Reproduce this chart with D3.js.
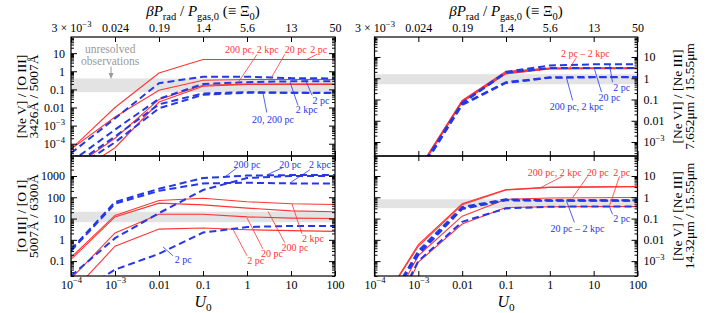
<!DOCTYPE html>
<html>
<head>
<meta charset="utf-8">
<script src="https://cdn.jsdelivr.net/npm/d3@7"></script>
<style>
  body { margin: 0; background: #fff; }
  svg { display: block; }
</style>
</head>
<body>
<div id="chart"></div>
<script>
// model grid: one point per decade of U0
const U0 = [1e-4, 1e-3, 1e-2, 1e-1, 1, 10, 100];
const sizes = ["2 pc", "20 pc", "200 pc", "2 kpc"];
const uLabels = ["10^−4", "10^−3", "0.01", "0.1", "1", "10", "100"];
const xiLabels = ["3 × 10^−3", "0.024", "0.19", "1.4", "5.6", "13", "50"];

// [Ne V]/[O III] 3426/5007 (rows follow sizes)
const nevOiiiRed = [
  [5e-5, 0.01, 0.8, 4.5, 4.5, 4.5, 4.5],
  [5e-5, 3e-3, 0.09, 0.32, 0.35, 0.35, 0.35],
  [4e-6, 2e-4, 0.028, 0.17, 0.2, 0.2, 0.2],
  [1.5e-6, 6e-5, 0.02, 0.15, 0.19, 0.19, 0.19]
];
const nevOiiiBlue = [
  [3e-5, 2.5e-3, 0.22, 0.5, 0.5, 0.42, 0.4],
  [5e-6, 2.5e-4, 0.015, 0.06, 0.07, 0.065, 0.065],
  [3e-6, 1.2e-4, 0.009, 0.05, 0.065, 0.065, 0.062],
  [1e-5, 6e-4, 0.03, 0.2, 0.25, 0.28, 0.28]
];
const nevOiiiObs = [0.07, 0.4];

// [O III]/[O I] 5007/6300
const oiiiOiRed = [
  [3e-3, 0.5, 3.2, 3.6, 3, 2.7, 2.5],
  [0.015, 2.1, 16, 16, 12, 10.5, 10],
  [0.12, 12, 53, 44, 31, 23, 21],
  [0.15, 14, 70, 90, 62, 50, 46]
];
const oiiiOiBlue = [
  [2e-3, 0.04, 0.22, 2.2, 4, 4.5, 4.5],
  [0.35, 60, 250, 800, 1050, 1100, 1100],
  [0.02, 1.2, 18, 220, 800, 1000, 1000],
  [0.3, 50, 200, 450, 480, 450, 450]
];
const oiiiOiObs = [6.7, 21];

// [Ne VI]/[Ne III] 7.652/15.55 um
const nevINeiiiRed = [
  [1e-9, 5e-5, 0.09, 2.1, 3, 3, 3],
  [1e-9, 5e-5, 0.085, 1.9, 2.9, 3, 3],
  [1e-9, 4.5e-5, 0.08, 1.7, 2.8, 2.9, 2.9],
  [1e-9, 4e-5, 0.075, 1.6, 2.7, 2.8, 2.8]
];
const nevINeiiiBlue = [
  [1e-9, 4e-5, 0.07, 2, 4, 4.5, 4.5],
  [1e-9, 4e-5, 0.065, 1.8, 3, 3, 3],
  [1e-9, 3e-5, 0.06, 0.65, 1.1, 1.15, 1.15],
  [1e-9, 3e-5, 0.055, 0.6, 1.05, 1.1, 1.1]
];
const nevINeiiiObs = [0.52, 1.55];

// [Ne V]/[Ne III] 14.32/15.55 um
const nevNeiiiRed = [
  [2.5e-8, 9e-4, 0.055, 0.33, 0.36, 0.37, 0.37],
  [3e-7, 1.8e-3, 0.13, 0.8, 0.92, 0.95, 0.97],
  [3e-6, 6e-3, 0.5, 2.3, 3, 3.1, 3.2],
  [3e-6, 5e-3, 0.45, 2.2, 2.9, 3.0, 3.1]
];
const nevNeiiiBlue = [
  [1e-7, 1e-3, 0.07, 0.3, 0.36, 0.37, 0.37],
  [1e-6, 3e-3, 0.35, 0.8, 0.72, 0.72, 0.72],
  [1e-6, 2.5e-3, 0.3, 0.75, 0.7, 0.7, 0.7],
  [1e-6, 2e-3, 0.28, 0.72, 0.68, 0.68, 0.68]
];
const nevNeiiiObs = [0.31, 0.8];

// labels with leader lines, in [log10 U0, log10 ratio]
const nevOiiiNotes = [
  {t: "200 pc, 2 kpc", c: "r", at: [0.11, 1.22], from: [0.23, 0.94], to: [-0.23, -0.72]},
  {t: "20 pc", c: "r", at: [1.11, 1.22], from: [0.86, 0.94], to: [0.52, -0.5]},
  {t: "2 pc", c: "r", at: [1.63, 1.22], from: [1.59, 0.94], to: [1.36, 0.65]},
  {t: "2 pc", c: "b", at: [1.68, -1.61], from: [1.48, -1.33], to: [1.32, -0.44]},
  {t: "2 kpc", c: "b", at: [1.36, -2.11], from: [1.16, -1.89], to: [0.98, -0.61]},
  {t: "20, 200 pc", c: "b", at: [0.59, -2.67], from: [0.45, -2.28], to: [0.36, -1.17]}
];
const oiiiOiNotes = [
  {t: "200 pc", c: "b", at: [0.0, 3.52], from: [-0.23, 3.38], to: [-0.5, 2.96]},
  {t: "20 pc", c: "b", at: [0.98, 3.52], from: [0.8, 3.38], to: [0.45, 3.05]},
  {t: "2 kpc", c: "b", at: [1.66, 3.52], from: [1.43, 3.29], to: [0.98, 2.68]},
  {t: "2 kpc", c: "r", at: [1.5, 0.07], from: [1.25, 0.28], to: [1.02, 1.7]},
  {t: "200 pc", c: "r", at: [1.09, -0.35], from: [0.86, -0.14], to: [0.48, 1.33]},
  {t: "20 pc", c: "r", at: [0.57, -0.63], from: [0.36, -0.42], to: [0.0, 1.03]},
  {t: "2 pc", c: "r", at: [0.2, -0.96], from: [0.0, -0.75], to: [-0.32, 0.5]},
  {t: "2 pc", c: "b", at: [-1.45, -0.94], from: [-1.68, -0.75], to: [-1.91, -0.33]}
];
const nevINeiiiNotes = [
  {t: "2 pc – 2 kpc", c: "r", at: [0.81, 1.18], from: [0.61, 0.99], to: [0.45, 0.47]},
  {t: "2 pc", c: "b", at: [1.64, -0.42], from: [1.43, -0.19], to: [1.36, 0.66]},
  {t: "20 pc", c: "b", at: [1.36, -0.9], from: [1.18, -0.66], to: [1.02, 0.42]},
  {t: "200 pc, 2 kpc", c: "b", at: [0.61, -1.32], from: [0.52, -1.04], to: [0.38, 0.02]}
];
const nevNeiiiNotes = [
  {t: "200 pc, 2 kpc", c: "r", at: [0.11, 1.18], from: [0.29, 0.99], to: [-0.24, 0.42]},
  {t: "20 pc", c: "r", at: [1.09, 1.18], from: [0.86, 0.99], to: [0.52, -0.02]},
  {t: "2 pc", c: "r", at: [1.64, 1.18], from: [1.59, 0.99], to: [1.36, -0.42]},
  {t: "2 pc", c: "b", at: [1.64, -1.0], from: [1.43, -0.8], to: [1.36, -0.44]},
  {t: "20 pc – 2 kpc", c: "b", at: [0.63, -1.46], from: [0.56, -1.18], to: [0.38, -0.17]}
];

const RED = "#ff3535", BLUE = "#2438e6", SERIF = "'Liberation Serif', 'DejaVu Serif', serif";
const W = 709, H = 313;

const svg = d3.select("#chart").append("svg")
    .attr("width", W).attr("height", H)
    .attr("font-family", SERIF);

// text with italic / sub / sup pieces; dy only where the baseline moves
function richText(sel, parts, fs) {
  let off = 0;
  parts.forEach(([s, k]) => {
    const t = sel.append("tspan").text(s);
    let target = 0;
    if (k === "sub" || k === "isub") { target = 0.28 * fs; t.attr("font-size", 0.7 * fs); }
    if (k === "sup") { target = -0.42 * fs; t.attr("font-size", 0.72 * fs); }
    if (k === "i" || k === "isub") t.attr("font-style", "italic");
    if (target !== off) t.attr("dy", target - off);
    off = target;
  });
}
function supLabel(sel, str, fs) {
  sel.text(null);
  const bits = str.split("^");
  richText(sel, bits.length > 1 ? [[bits[0], ""], [bits[1], "sup"]] : [[str, ""]], fs);
}
function logLabel(v) {
  const e = Math.round(Math.log10(v));
  return e <= -3 ? "10^−" + (-e) : d3.format("~g")(v);
}
function decades(dom) {
  return d3.range(Math.ceil(Math.log10(dom[0]) - 1e-9), Math.floor(Math.log10(dom[1]) + 1e-9) + 1).map(e => 10 ** e);
}
function minors(dom) {
  const out = [];
  for (let e = Math.floor(Math.log10(dom[0])); e <= Math.ceil(Math.log10(dom[1])); e++)
    for (let m = 2; m <= 9; m++) {
      const v = m * 10 ** e;
      if (v >= dom[0] && v <= dom[1]) out.push(v);
    }
  return out;
}

const panels = [
  {x: [71, 335], y: [37, 156], dom: [2.1e-5, 78], red: nevOiiiRed, blue: nevOiiiBlue, obs: nevOiiiObs,
   notes: nevOiiiNotes, side: "left", top: true, lab: ["[Ne V] / [O III]", "3426Å / 5007Å"]},
  {x: [71, 335], y: [156, 276], dom: [0.02, 8700], red: oiiiOiRed, blue: oiiiOiBlue, obs: oiiiOiObs,
   notes: oiiiOiNotes, side: "left", top: false, lab: ["[O III] / [O I]", "5007Å / 6300Å"]},
  {x: [374.5, 637.5], y: [37, 156], dom: [2.2e-4, 87], red: nevINeiiiRed, blue: nevINeiiiBlue, obs: nevINeiiiObs,
   notes: nevINeiiiNotes, side: "right", top: true, lab: ["[Ne VI] / [Ne III]", "7.652μm / 15.55μm"]},
  {x: [374.5, 637.5], y: [156, 276], dom: [2e-4, 87], red: nevNeiiiRed, blue: nevNeiiiBlue, obs: nevNeiiiObs,
   notes: nevNeiiiNotes, side: "right", top: false, lab: ["[Ne V] / [Ne III]", "14.32μm / 15.55μm"]}
];

panels.forEach((p, pi) => {
  const x = d3.scaleLog().domain([1e-4, 100]).range(p.x);
  const y = d3.scaleLog().domain(p.dom).range([p.y[1], p.y[0]]);
  const g = svg.append("g");

  g.append("clipPath").attr("id", "clip" + pi)
    .append("rect").attr("x", p.x[0]).attr("y", p.y[0])
    .attr("width", p.x[1] - p.x[0]).attr("height", p.y[1] - p.y[0]);

  // observed range
  g.append("rect")
    .attr("x", p.x[0]).attr("width", p.x[1] - p.x[0])
    .attr("y", y(p.obs[1])).attr("height", y(p.obs[0]) - y(p.obs[1]))
    .attr("fill", "#e3e3e3");

  const line = d3.line().x(d => x(d[0])).y(d => y(d[1]));
  const lines = g.append("g").attr("clip-path", `url(#clip${pi})`).attr("fill", "none");
  p.red.forEach(s => lines.append("path").attr("d", line(d3.zip(U0, s)))
    .attr("stroke", RED).attr("stroke-width", 1.1));
  p.blue.forEach(s => lines.append("path").attr("d", line(d3.zip(U0, s)))
    .attr("stroke", BLUE).attr("stroke-width", 2).attr("stroke-dasharray", "7,4"));

  // frame
  g.append("rect").attr("x", p.x[0]).attr("y", p.y[0])
    .attr("width", p.x[1] - p.x[0]).attr("height", p.y[1] - p.y[0])
    .attr("fill", "none").attr("stroke", "#000").attr("stroke-width", 1.2);

  // y axes on both edges
  [["left", p.x[0]], ["right", p.x[1]]].forEach(([s, pos]) => {
    const mk = s === "left" ? d3.axisLeft : d3.axisRight;
    const labelled = s === p.side;
    const ax = g.append("g").attr("transform", `translate(${pos},0)`)
      .call(mk(y).tickValues(decades(p.dom)).tickSize(-6).tickPadding(labelled ? 6 : 0)
        .tickFormat(d => labelled ? logLabel(d) : ""));
    g.append("g").attr("transform", `translate(${pos},0)`)
      .call(mk(y).tickValues(minors(p.dom)).tickSize(-3).tickFormat(""))
      .call(a => a.select(".domain").remove());
    ax.select(".domain").remove();
    ax.attr("font-family", SERIF).attr("font-size", 12);
    ax.selectAll("text").each(function (d) { if (labelled) supLabel(d3.select(this), logLabel(d), 12); });
  });

  // x axes top and bottom
  const top = g.append("g").attr("transform", `translate(0,${p.y[0]})`)
    .call(d3.axisTop(x).tickValues(U0).tickSize(-5).tickPadding(5).tickFormat((d, i) => p.top ? xiLabels[i] : ""));
  const bot = g.append("g").attr("transform", `translate(0,${p.y[1]})`)
    .call(d3.axisBottom(x).tickValues(U0).tickSize(-5).tickPadding(4).tickFormat((d, i) => p.top ? "" : uLabels[i]));
  [top, bot].forEach(a => {
    a.select(".domain").remove();
    a.attr("font-family", SERIF).attr("font-size", 12);
  });
  if (p.top) top.selectAll("text").each(function (d, i) { supLabel(d3.select(this), xiLabels[i], 12); });
  else bot.selectAll("text").each(function (d, i) { supLabel(d3.select(this), uLabels[i], 12); });

  // ratio label
  const lx = p.side === "left" ? [21.5, 33] : [677.5, 689];
  const yc = (p.y[0] + p.y[1]) / 2;
  p.lab.forEach((t, k) => {
    g.append("text").attr("transform", `translate(${lx[k]},${yc}) rotate(-90)`)
      .attr("text-anchor", "middle").attr("dominant-baseline", "central")
      .attr("font-size", 13.5).text(t);
  });

  // annotations
  const px = d => [x(10 ** d[0]), y(10 ** d[1])];
  p.notes.forEach(n => {
    const col = n.c === "r" ? RED : BLUE;
    const a = px(n.from), b = px(n.to), c = px(n.at);
    g.append("line").attr("x1", a[0]).attr("y1", a[1]).attr("x2", b[0]).attr("y2", b[1])
      .attr("stroke", col).attr("stroke-width", 0.8);
    g.append("text").attr("x", c[0]).attr("y", c[1])
      .attr("text-anchor", "middle").attr("dominant-baseline", "central")
      .attr("font-size", 10).attr("fill", col).text(n.t);
  });

  if (pi === 0) {
    const gray = "#9a9a9a";
    ["unresolved", "observations"].forEach((t, k) => {
      const c = px([-3.11, 1.24 - 0.68 * k]);
      g.append("text").attr("x", c[0]).attr("y", c[1])
        .attr("text-anchor", "middle").attr("dominant-baseline", "central")
        .attr("font-size", 11.5).attr("fill", gray).text(t);
    });
    const a = px([-3.09, 0.26]), b = px([-3.09, -0.42]);
    g.append("line").attr("x1", a[0]).attr("y1", a[1]).attr("x2", b[0]).attr("y2", b[1] - 4)
      .attr("stroke", gray).attr("stroke-width", 1);
    g.append("path")
      .attr("d", `M${b[0] - 2.5},${b[1] - 6}L${b[0] + 2.5},${b[1] - 6}L${b[0]},${b[1]}Z`)
      .attr("fill", gray);
  }

  if (p.top) {
    richText(svg.append("text").attr("x", (p.x[0] + p.x[1]) / 2).attr("y", 16)
      .attr("text-anchor", "middle").attr("font-size", 15),
      [["β", "i"], ["P", "i"], ["rad", "sub"], [" / ", ""], ["P", "i"], ["gas,0", "sub"],
       [" (≡ Ξ", ""], ["0", "sub"], [")", ""]], 15);
  } else {
    richText(svg.append("text").attr("x", (p.x[0] + p.x[1]) / 2).attr("y", 307)
      .attr("text-anchor", "middle").attr("font-size", 16),
      [["U", "i"], ["0", "sub"]], 16);
  }
});
</script>
</body>
</html>
